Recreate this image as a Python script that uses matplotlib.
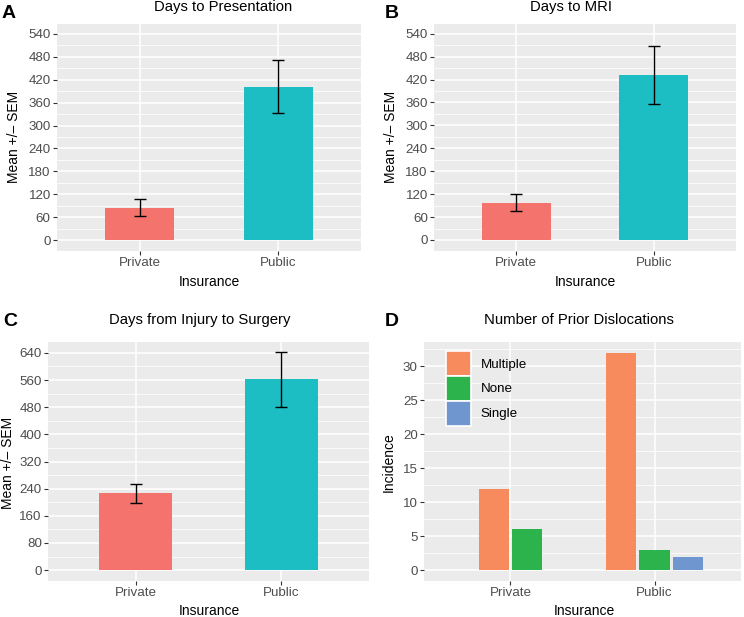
import numpy as np
import matplotlib
matplotlib.use("Agg")
import matplotlib.pyplot as plt
from matplotlib.patches import Rectangle

plt.rcParams['font.family'] = ['Liberation Sans', 'DejaVu Sans']

# data
categories = ["Private", "Public"]

pres_mean = [85, 402]
pres_sem = [22, 70]

mri_mean = [98, 432]
mri_sem = [22, 76]

surg_mean = [226, 562]
surg_sem = [29, 81]

disloc_groups = ["Multiple", "None", "Single"]
disloc_counts = {
    "Multiple": [12, 32],
    "None": [6, 3],
    "Single": [None, 2],   # no private patients with a single dislocation
}

bar_colors = ["#F4736D", "#1CBEC3"]
disloc_colors = {"Multiple": "#F78B5D", "None": "#2DB34B", "Single": "#7096CF"}

W, H = 744, 617
fig = plt.figure(figsize=(W / 100, H / 100), dpi=100)


def px_axes(x0, y0, x1, y1):
    return fig.add_axes([x0 / W, 1 - y1 / H, (x1 - x0) / W, (y1 - y0) / H])


def gg_style(ax, ylim, major, minor):
    ax.set_facecolor("#EBEBEB")
    for s in ax.spines.values():
        s.set_visible(False)
    ax.set_ylim(*ylim)
    ax.set_xlim(0.4, 2.6)
    ax.set_yticks(major)
    ax.set_yticks(minor, minor=True)
    ax.set_xticks([1, 2])
    ax.set_xticklabels(categories)
    ax.grid(which="major", color="white", linewidth=1.1)
    ax.grid(which="minor", axis="y", color="white", linewidth=0.55)
    ax.set_axisbelow(True)
    ax.tick_params(which="major", length=3, width=0.8, color="#333333",
                   labelcolor="#4D4D4D", labelsize=9.6, pad=1.5)
    ax.tick_params(which="minor", length=0)


def fig_text(x, y, s, **kw):
    fig.text(x / W, 1 - y / H, s, ha="center", va="center", **kw)


def mean_panel(ax, means, sems, ylim, major, minor):
    gg_style(ax, ylim, major, minor)
    xs = np.arange(1, len(categories) + 1)
    ax.bar(xs, means, width=0.5, color=bar_colors, zorder=2)
    ax.errorbar(xs, means, yerr=sems, fmt="none", ecolor="black",
                elinewidth=1.0, capsize=4, capthick=1.0, zorder=3)


# A
axA = px_axes(57, 24, 361, 251)
mean_panel(axA, pres_mean, pres_sem, (-28.8, 566), np.arange(0, 541, 60),
           np.arange(30, 560, 60))
# B
axB = px_axes(434, 24, 736, 251)
mean_panel(axB, mri_mean, mri_sem, (-28.8, 565.5), np.arange(0, 541, 60),
           np.arange(30, 560, 60))
# C
axC = px_axes(48, 342, 369, 581)
mean_panel(axC, surg_mean, surg_sem, (-32, 672), np.arange(0, 641, 80),
           np.arange(40, 670, 80))

# D
axD = px_axes(424, 342, 741, 581)
gg_style(axD, (-1.6, 33.6), np.arange(0, 31, 5), np.arange(2.5, 33, 5))
step, bw = 0.233, 0.21
for gi in range(len(categories)):
    present = [g for g in disloc_groups if disloc_counts[g][gi] is not None]
    n = len(present)
    for k, g in enumerate(present):
        xpos = gi + 1 + (k - (n - 1) / 2) * step
        axD.bar(xpos, disloc_counts[g][gi], width=bw, color=disloc_colors[g], zorder=2)

handles = [Rectangle((0, 0), 1, 1, facecolor=disloc_colors[g], edgecolor="white",
                     linewidth=1.2) for g in disloc_groups]
leg = fig.legend(handles, disloc_groups, loc="upper left",
                 bbox_to_anchor=(446 / W, 1 - 351 / H), frameon=False,
                 fontsize=9.6, handlelength=1.85, handleheight=2.5,
                 labelspacing=0.0, handletextpad=0.75, borderpad=0,
                 borderaxespad=0)

# titles
fig_text(223, 7, "Days to Presentation", fontsize=10.7)
fig_text(571, 7, "Days to MRI", fontsize=10.7)
fig_text(200, 320, "Days from Injury to Surgery", fontsize=10.7)
fig_text(579, 320, "Number of Prior Dislocations", fontsize=10.7)

# panel letters
fig_text(9, 13, "A", fontsize=14, fontweight="bold")
fig_text(392, 13, "B", fontsize=14, fontweight="bold")
fig_text(10, 321, "C", fontsize=14, fontweight="bold")
fig_text(392, 321, "D", fontsize=14, fontweight="bold")

# axis labels
fig_text(209, 282, "Insurance", fontsize=10)
fig_text(585, 282, "Insurance", fontsize=10)
fig_text(209, 611, "Insurance", fontsize=10)
fig_text(584, 611, "Insurance", fontsize=10)
fig_text(14, 137, "Mean +/\u2013 SEM", fontsize=10, rotation=90)
fig_text(391, 137, "Mean +/\u2013 SEM", fontsize=10, rotation=90)
fig_text(8, 463, "Mean +/\u2013 SEM", fontsize=10, rotation=90)
fig_text(389, 462, "Incidence", fontsize=10, rotation=90)

fig.savefig("out.png", dpi=100)
